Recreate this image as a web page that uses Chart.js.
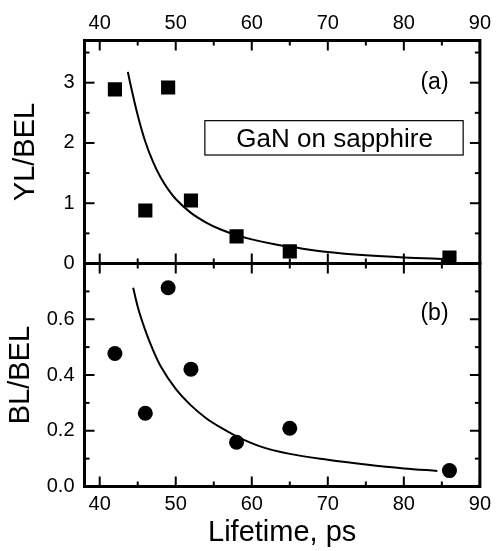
<!DOCTYPE html>
<html>
<head>
<meta charset="utf-8">
<script src="https://cdn.jsdelivr.net/npm/chart.js@4.4.1/dist/chart.umd.min.js"></script>
<style>
  html, body { margin: 0; padding: 0; background: #fff; }
  canvas { display: block; }
</style>
</head>
<body>
<canvas id="chart" width="497" height="551"></canvas>
<script>
// YL/BEL and BL/BEL ratios vs positron lifetime, GaN on sapphire

const lifetimes = [42, 46, 49, 52, 58, 65, 86];
const ylBel = [2.89, 0.88, 2.92, 1.045, 0.45, 0.2, 0.1];
const blBel = [0.477, 0.263, 0.713, 0.421, 0.159, 0.209, 0.057];

// fitted curves
const ylFitX = [43.7, 44, 45, 46, 47, 48, 49, 50, 52, 54, 56, 58, 60, 63, 66, 70, 75, 80, 85.6];
const ylFitY = [3.18, 3.0, 2.46, 2.02, 1.69, 1.43, 1.23, 1.07, 0.84, 0.68, 0.56, 0.47, 0.4, 0.32, 0.26, 0.19, 0.135, 0.1, 0.075];
const blFitX = [44.4, 45, 46, 47, 48, 50, 52, 54, 56, 58, 61, 65, 70, 75, 80, 84.4];
const blFitY = [0.713, 0.645, 0.56, 0.49, 0.432, 0.35, 0.291, 0.245, 0.21, 0.18, 0.145, 0.117, 0.096, 0.079, 0.065, 0.056];

const xTicks = [40, 50, 60, 70, 80, 90];
const xMinor = [45, 55, 65, 75, 85];
const ylTicks = [0, 1, 2, 3];
const ylMinor = [0.5, 1.5, 2.5, 3.5];
const blTicks = [0, 0.2, 0.4, 0.6];
const blMinor = [0.1, 0.3, 0.5, 0.7];

const FONT = "'Liberation Sans', Arial, Helvetica, sans-serif";
Chart.defaults.font.family = FONT;
Chart.defaults.color = "#000";

const toPoints = (xs, ys) => xs.map((x, i) => ({ x: x, y: ys[i] }));

// frame, inward ticks and the in-plot labels
const framePlugin = {
  id: "frame",
  afterDraw(chart) {
    const { ctx, chartArea } = chart;
    const { left, right } = chartArea;
    const x = chart.scales.x;
    const yt = chart.scales.yTop;
    const yb = chart.scales.yBot;

    const line = (x1, y1, x2, y2) => {
      ctx.beginPath();
      ctx.moveTo(x1, y1);
      ctx.lineTo(x2, y2);
      ctx.stroke();
    };

    ctx.save();
    ctx.strokeStyle = "#000";
    ctx.lineWidth = 2;

    const hTicks = (vals, len) => {
      vals.forEach((v) => {
        const px = x.getPixelForValue(v);
        line(px, yt.top, px, yt.top + len);
        line(px, yt.bottom, px, yt.bottom - len);
        line(px, yb.top, px, yb.top + len);
        line(px, yb.bottom, px, yb.bottom - len);
      });
    };
    const vTicks = (scale, vals, len) => {
      vals.forEach((v) => {
        const py = scale.getPixelForValue(v);
        line(left, py, left + len, py);
        line(right, py, right - len, py);
      });
    };
    hTicks(xTicks, 10);
    hTicks(xMinor, 5);
    vTicks(yt, ylTicks, 10);
    vTicks(yt, ylMinor, 5);
    vTicks(yb, blTicks, 10);
    vTicks(yb, blMinor, 5);

    ctx.lineWidth = 3;
    ctx.strokeRect(left, yt.top, right - left, yt.bottom - yt.top);
    ctx.strokeRect(left, yb.top, right - left, yb.bottom - yb.top);

    // sample box
    const bx1 = x.getPixelForValue(53.83);
    const bx2 = x.getPixelForValue(87.8);
    const by1 = yt.getPixelForValue(2.37);
    const by2 = yt.getPixelForValue(1.8);
    ctx.lineWidth = 1.2;
    ctx.strokeRect(bx1, by1, bx2 - bx1, by2 - by1);

    ctx.fillStyle = "#000";
    ctx.textAlign = "center";
    ctx.textBaseline = "alphabetic";
    ctx.font = "26px " + FONT;
    ctx.fillText("GaN on sapphire", x.getPixelForValue(70.9), yt.getPixelForValue(1.933));

    ctx.font = "23px " + FONT;
    ctx.fillText("(a)", x.getPixelForValue(84.03), yt.getPixelForValue(2.895));
    ctx.fillText("(b)", x.getPixelForValue(84.03), yb.getPixelForValue(0.597));
    ctx.restore();
  },
};

const xAxis = (position, height, padding) => ({
  type: "linear",
  position: position,
  min: 38,
  max: 90,
  afterBuildTicks: (s) => {
    s.ticks = xTicks.map((v) => ({ value: v }));
  },
  afterFit: (s) => {
    s.height = height;
  },
  grid: { display: false, drawTicks: false },
  border: { display: false },
  ticks: {
    font: { size: 20 },
    padding: padding,
    autoSkip: false,
    maxRotation: 0,
    callback: (v) => String(v),
  },
});

const ctx = document.getElementById("chart").getContext("2d");

new Chart(ctx, {
  type: "scatter",
  data: {
    datasets: [
      {
        label: "YL/BEL",
        data: toPoints(lifetimes, ylBel),
        xAxisID: "x",
        yAxisID: "yTop",
        pointStyle: "rect",
        pointRadius: 10,
        backgroundColor: "#000",
        borderColor: "#000",
        borderWidth: 0,
      },
      {
        label: "YL/BEL fit",
        data: toPoints(ylFitX, ylFitY),
        xAxisID: "x",
        yAxisID: "yTop",
        showLine: true,
        pointRadius: 0,
        borderColor: "#000",
        borderWidth: 2,
        cubicInterpolationMode: "monotone",
      },
      {
        label: "BL/BEL",
        data: toPoints(lifetimes, blBel),
        xAxisID: "x",
        yAxisID: "yBot",
        pointStyle: "circle",
        pointRadius: 7.5,
        backgroundColor: "#000",
        borderColor: "#000",
        borderWidth: 0,
      },
      {
        label: "BL/BEL fit",
        data: toPoints(blFitX, blFitY),
        xAxisID: "x",
        yAxisID: "yBot",
        showLine: true,
        pointRadius: 0,
        borderColor: "#000",
        borderWidth: 2,
        cubicInterpolationMode: "monotone",
      },
    ],
  },
  options: {
    responsive: false,
    animation: false,
    layout: { padding: { left: 0, right: 13.5, top: 0, bottom: 0 } },
    plugins: {
      legend: { display: false },
      tooltip: { enabled: false },
    },
    scales: {
      x: {
        ...xAxis("bottom", 64.5, 6),
        title: {
          display: true,
          text: "Lifetime, ps",
          font: { size: 29 },
          padding: { top: 0, bottom: 1 },
        },
      },
      x2: xAxis("top", 40.5, 5),
      yTop: {
        type: "linear",
        position: "left",
        stack: "panels",
        stackWeight: 1,
        weight: 2,
        min: 0,
        max: 3.7,
        afterBuildTicks: (s) => {
          s.ticks = ylTicks.map((v) => ({ value: v }));
        },
        afterFit: (s) => {
          s.width = 84.5;
        },
        grid: { display: false, drawTicks: false },
        border: { display: false },
        ticks: { font: { size: 20 }, padding: 10, callback: (v) => String(v) },
        title: {
          display: true,
          text: "YL/BEL",
          font: { size: 29 },
          padding: { top: 9, bottom: 0 },
        },
      },
      yBot: {
        type: "linear",
        position: "left",
        stack: "panels",
        stackWeight: 1,
        weight: 1,
        min: 0,
        max: 0.8,
        afterBuildTicks: (s) => {
          s.ticks = blTicks.map((v) => ({ value: v }));
        },
        afterFit: (s) => {
          s.width = 84.5;
        },
        grid: { display: false, drawTicks: false },
        border: { display: false },
        ticks: { font: { size: 20 }, padding: 10, callback: (v) => v.toFixed(1) },
        title: {
          display: true,
          text: "BL/BEL",
          font: { size: 29 },
          padding: { top: 4, bottom: 0 },
        },
      },
    },
  },
  plugins: [framePlugin],
});
</script>
</body>
</html>
